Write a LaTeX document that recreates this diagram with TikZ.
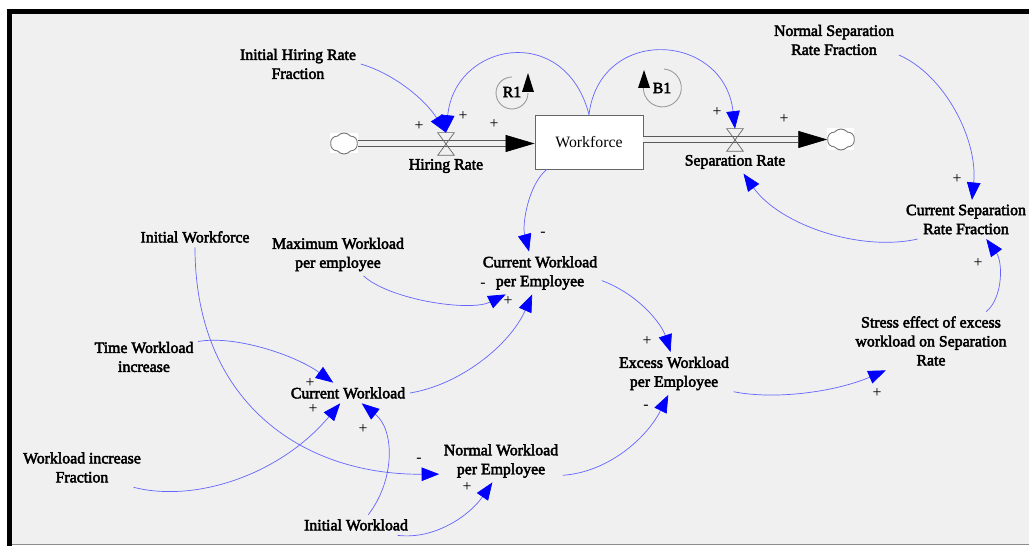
\documentclass[tikz,border=0pt]{standalone}
\usepackage{fontspec}
\setmainfont{Liberation Serif}
\newfontfamily\labelfont[FakeBold=3]{Liberation Serif}
\usetikzlibrary{arrows.meta,shapes.symbols}
\definecolor{panelgray}{RGB}{240,240,240}
\definecolor{linkblue}{RGB}{100,100,255}

\begin{document}
\begin{tikzpicture}[x=0.02cm,y=-0.02cm,
    var/.style={font=\labelfont\fontsize{9}{10.8}\selectfont,align=center,inner sep=2.5pt},
    sign/.style={font=\fontsize{9}{10.8}\selectfont,inner sep=0pt},
    link/.style={draw=linkblue,line width=0.4pt,-{Triangle[length=0.35cm,width=0.27cm,color=blue,fill=blue]}},
    pipe/.style={draw=black!65,double=panelgray,double distance=0.105cm,line width=0.45pt,-{Triangle[length=0.58cm,width=0.34cm,color=black,fill=black]}},
    stock/.style={draw=black!60,line width=0.5pt,fill=white,minimum width=2.16cm,minimum height=1.08cm,font=\fontsize{9}{10.8}\selectfont},
    valve/.style={minimum width=0.32cm,minimum height=0.44cm,inner sep=0pt},
    valveline/.style={draw=black!60,line width=0.4pt},
    sky/.style={cloud,cloud puffs=6,cloud puff arc=100,aspect=1.3,draw=black!55,line width=0.5pt,fill=white,minimum width=0.54cm,minimum height=0.42cm,inner sep=0pt},
    loopline/.style={draw=black!40,line width=0.5pt}]
    \useasboundingbox (0,0) rectangle (1029,546);
    \fill[white] (0,0) rectangle (1029,546);
    \fill[panelgray] (12,14) rectangle (1029,544);
    \draw[black!45] (12,544.5) -- (1029,544.5);
    \fill[black] (7,9) rectangle (1029,14);
    \fill[black] (7,9) rectangle (12,546);

    \fill[white] (330,133) rectangle (358,153);
    \fill[white] (827,128) rectangle (854,150);
    \node[sky] (hcloud) at (344,143.5) {};
    \node[sky] (scloud) at (841,139.5) {};
    \node[stock] (wf) at (589,142) {Workforce};
    \draw[pipe] (hcloud.east) -- (hcloud.east -| wf.west);
    \draw[pipe] (wf.east |- scloud.west) -- (scloud.west);

    \node[valve] (hvalve) at (446,144) {};
    \node[valve] (svalve) at (735,140) {};
    \draw[valveline] (hvalve.north west) -- (hvalve.north east) -- (hvalve.south west) -- (hvalve.south east) -- cycle;
    \draw[valveline] (svalve.north west) -- (svalve.north east) -- (svalve.south west) -- (svalve.south east) -- cycle;

    \node[var] (inithire) at (298,64) {Initial Hiring Rate\\Fraction};
    \node[var] (hrate) at (446,166) {Hiring Rate};
    \node[var] (srate) at (735,162) {Separation Rate};
    \node[var] (normsep) at (834,40) {Normal Separation\\Rate Fraction};
    \node[var] (cursep) at (966,219.5) {Current Separation\\Rate Fraction};
    \node[var] (stress) at (931,341) {Stress effect of excess\\workload on Separation\\Rate};
    \node[var] (excess) at (674,373.5) {Excess Workload\\per Employee};
    \node[var] (cwpe) at (540,273) {Current Workload\\per Employee};
    \node[var] (normal) at (501,461) {Normal Workload\\per Employee};
    \node[var] (cw) at (348,393) {Current Workload};
    \node[var] (maxwl) at (338,254.5) {Maximum Workload\\per employee};
    \node[var] (initwf) at (195,237) {Initial Workforce};
    \node[var] (timewl) at (144,357) {Time Workload\\increase};
    \node[var] (wlinc) at (82,467.5) {Workload increase\\Fraction};
    \node[var] (initwl) at (356,525) {Initial Workload};

    \draw[link] (inithire.east) .. controls (392,73) and (424,98) .. (hvalve.north);
    \draw[link] (wf.north) .. controls (565,22) and (455,42) .. (hvalve.north);
    \draw[link] (wf.north) .. controls (600,25) and (724,32) .. (svalve.north);
    \draw[link] (normsep.-13) .. controls (945,75) and (978,140) .. (cursep.73);
    \draw[link] (cursep.202) .. controls (860,252) and (780,225) .. (srate.-54);
    \draw[link] (stress.28) .. controls (1003,298) and (1003,262) .. (cursep.-44);
    \draw[link] (excess.-17) .. controls (775,400) and (835,392) .. (stress.213);
    \draw[link] (cwpe.-7) .. controls (640,295) and (662,325) .. (excess.99);
    \draw[link] (normal.-13) .. controls (610,472) and (648,436) .. (excess.-105);
    \draw[link] (cw.east) .. controls (460,385) and (510,345) .. (cwpe.250);
    \draw[link] (maxwl.-40) .. controls (390,300) and (470,312) .. (cwpe.212);
    \draw[link] (wf.213) .. controls (528,185) and (522,225) .. (cwpe.117);
    \draw[link] (initwf.south) .. controls (195,400) and (300,475) .. (normal.192);
    \draw[link] (timewl.16) .. controls (235,335) and (295,355) .. (cw.145);
    \draw[link] (wlinc.-21) .. controls (195,503) and (280,475) .. (cw.233);
    \draw[link] (initwl.40) .. controls (395,480) and (395,430) .. (cw.-37);
    \draw[link] (initwl.-14) .. controls (435,540) and (470,515) .. (normal.248);

    \node[sign] (p1) at (419,126) {+};
    \node[sign] (p2) at (463,116) {+};
    \node[sign] (p3) at (494,124) {+};
    \node[sign] (p4) at (717,112) {+};
    \node[sign] (p5) at (784,119) {+};
    \node[sign] (p6) at (957,179) {+};
    \node[sign] (p7) at (978,263) {+};
    \node[sign] (p8) at (647,341) {+};
    \node[sign] (p9) at (877,393) {+};
    \node[sign] (p10) at (508,301) {+};
    \node[sign] (p11) at (310,383) {+};
    \node[sign] (p12) at (313,409) {+};
    \node[sign] (p13) at (363,429) {+};
    \node[sign] (p14) at (467,487) {+};
    \node[sign] (m1) at (543,234) {-};
    \node[sign] (m2) at (483,285) {-};
    \node[sign] (m3) at (646,407) {-};
    \node[sign] (m4) at (419,460) {-};

    \node[var] (r1) at (512,92) {R1};
    \node[var] (b1) at (662,88) {B1};
    \draw[loopline] (r1) ++(16,1) arc[start angle=0,end angle=-270,radius=0.32cm];
    \draw[loopline] (b1) ++(2,-19) arc[start angle=85,end angle=-190,radius=0.38cm];
    \fill[black] (522,92) -- (528,73) -- (534,92) -- cycle;
    \fill[black] (638,88) -- (644,70) -- (650,88) -- cycle;
\end{tikzpicture}
\end{document}
